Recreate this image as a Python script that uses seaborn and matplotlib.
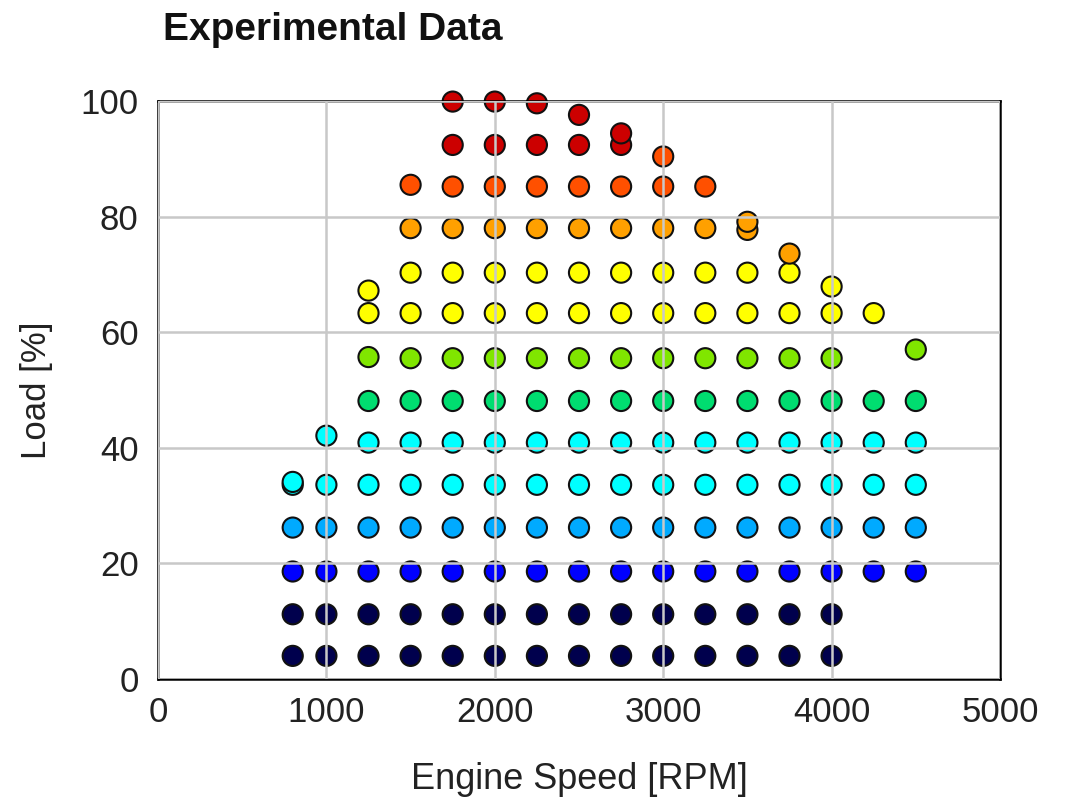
import seaborn as sns
import matplotlib.pyplot as plt
import pandas as pd

# Engine speed [RPM] and load [%] for each measured operating point (one line per speed column)
speed_rpm = [
    800, 800, 800, 800, 800, 800,
    1000, 1000, 1000, 1000, 1000, 1000,
    1250, 1250, 1250, 1250, 1250, 1250, 1250, 1250, 1250, 1250,
    1500, 1500, 1500, 1500, 1500, 1500, 1500, 1500, 1500, 1500, 1500, 1500,
    1750, 1750, 1750, 1750, 1750, 1750, 1750, 1750, 1750, 1750, 1750, 1750, 1750, 1750,
    2000, 2000, 2000, 2000, 2000, 2000, 2000, 2000, 2000, 2000, 2000, 2000, 2000, 2000,
    2250, 2250, 2250, 2250, 2250, 2250, 2250, 2250, 2250, 2250, 2250, 2250, 2250, 2250,
    2500, 2500, 2500, 2500, 2500, 2500, 2500, 2500, 2500, 2500, 2500, 2500, 2500, 2500,
    2750, 2750, 2750, 2750, 2750, 2750, 2750, 2750, 2750, 2750, 2750, 2750, 2750, 2750,
    3000, 3000, 3000, 3000, 3000, 3000, 3000, 3000, 3000, 3000, 3000, 3000, 3000,
    3250, 3250, 3250, 3250, 3250, 3250, 3250, 3250, 3250, 3250, 3250, 3250,
    3500, 3500, 3500, 3500, 3500, 3500, 3500, 3500, 3500, 3500, 3500, 3500,
    3750, 3750, 3750, 3750, 3750, 3750, 3750, 3750, 3750, 3750, 3750,
    4000, 4000, 4000, 4000, 4000, 4000, 4000, 4000, 4000, 4000,
    4250, 4250, 4250, 4250, 4250, 4250,
    4500, 4500, 4500, 4500, 4500, 4500,
]
load_pct = [
    4.0, 11.2, 18.6, 26.2, 33.6, 34.1,
    4.0, 11.2, 18.6, 26.2, 33.6, 42.1,
    4.0, 11.2, 18.6, 26.2, 33.6, 40.9, 48.1, 55.7, 63.3, 67.2,
    4.0, 11.2, 18.6, 26.2, 33.6, 40.9, 48.1, 55.5, 63.3, 70.3, 78.0, 85.5,
    4.0, 11.2, 18.6, 26.2, 33.6, 40.9, 48.1, 55.5, 63.3, 70.3, 78.0, 85.2, 92.4, 99.9,
    4.0, 11.2, 18.6, 26.2, 33.6, 40.9, 48.1, 55.5, 63.3, 70.3, 78.0, 85.2, 92.4, 99.9,
    4.0, 11.2, 18.6, 26.2, 33.6, 40.9, 48.1, 55.5, 63.3, 70.3, 78.0, 85.2, 92.4, 99.6,
    4.0, 11.2, 18.6, 26.2, 33.6, 40.9, 48.1, 55.5, 63.3, 70.3, 78.0, 85.2, 92.4, 97.6,
    4.0, 11.2, 18.6, 26.2, 33.6, 40.9, 48.1, 55.5, 63.3, 70.3, 78.0, 85.2, 92.4, 94.4,
    4.0, 11.2, 18.6, 26.2, 33.6, 40.9, 48.1, 55.5, 63.3, 70.3, 78.0, 85.2, 90.4,
    4.0, 11.2, 18.6, 26.2, 33.6, 40.9, 48.1, 55.5, 63.3, 70.3, 78.0, 85.2,
    4.0, 11.2, 18.6, 26.2, 33.6, 40.9, 48.1, 55.5, 63.3, 70.3, 77.7, 79.1,
    4.0, 11.2, 18.6, 26.2, 33.6, 40.9, 48.1, 55.5, 63.3, 70.3, 73.6,
    4.0, 11.2, 18.6, 26.2, 33.6, 40.9, 48.1, 55.5, 63.3, 67.9,
    18.6, 26.2, 33.6, 40.9, 48.1, 63.3,
    18.6, 26.2, 33.6, 40.9, 48.1, 57.0,
]

# Load bands and the colour used for each band
band_edges = [0, 15, 22, 30, 45, 52, 60, 72, 82, 91, 101]
band_colors = ['#00004d', '#0000ff', '#00aaff', '#00ffff', '#00dd70',
               '#80e600', '#ffff00', '#ffa000', '#ff5000', '#cc0000']

df = pd.DataFrame({'speed': speed_rpm, 'load': load_pct})
df['band'] = pd.cut(df['load'], bins=band_edges, labels=False)
palette = {i: c for i, c in enumerate(band_colors)}

sns.set_style('white')
plt.rcParams['font.family'] = ['Liberation Sans', 'DejaVu Sans']

fig = plt.figure(figsize=(10.66, 8.02), dpi=100)
ax = fig.add_axes([158 / 1066, 1 - 679 / 802, (1000 - 158) / 1066, (679 - 101) / 802])

sns.scatterplot(data=df, x='speed', y='load', hue='band', palette=palette,
                s=210, edgecolor='#111111', linewidth=1.5, legend=False,
                clip_on=False, zorder=1, ax=ax)

ax.set_xlim(0, 5000)
ax.set_ylim(0, 100)
ax.set_xticks([0, 1000, 2000, 3000, 4000, 5000])
ax.set_yticks([0, 20, 40, 60, 80, 100])
ax.set_axisbelow(False)
ax.grid(True, color='#c8c8c8', linewidth=1.8)
for side in ax.spines.values():
    side.set_color('black')
    side.set_linewidth(1.8)
ax.tick_params(axis='both', length=0, labelsize=25, colors='#222222')
ax.tick_params(axis='y', pad=14)
ax.tick_params(axis='x', pad=12)

ax.set_xlabel('Engine Speed [RPM]', fontsize=26, color='#222222', labelpad=24)
ax.set_ylabel('Load [%]', fontsize=25, color='#222222', labelpad=20)

fig.text(163 / 1066, 1 - 40 / 802, 'Experimental Data', fontsize=28,
         fontweight='bold', color='#111111', ha='left', va='baseline')

plt.savefig('out.png', dpi=100)
